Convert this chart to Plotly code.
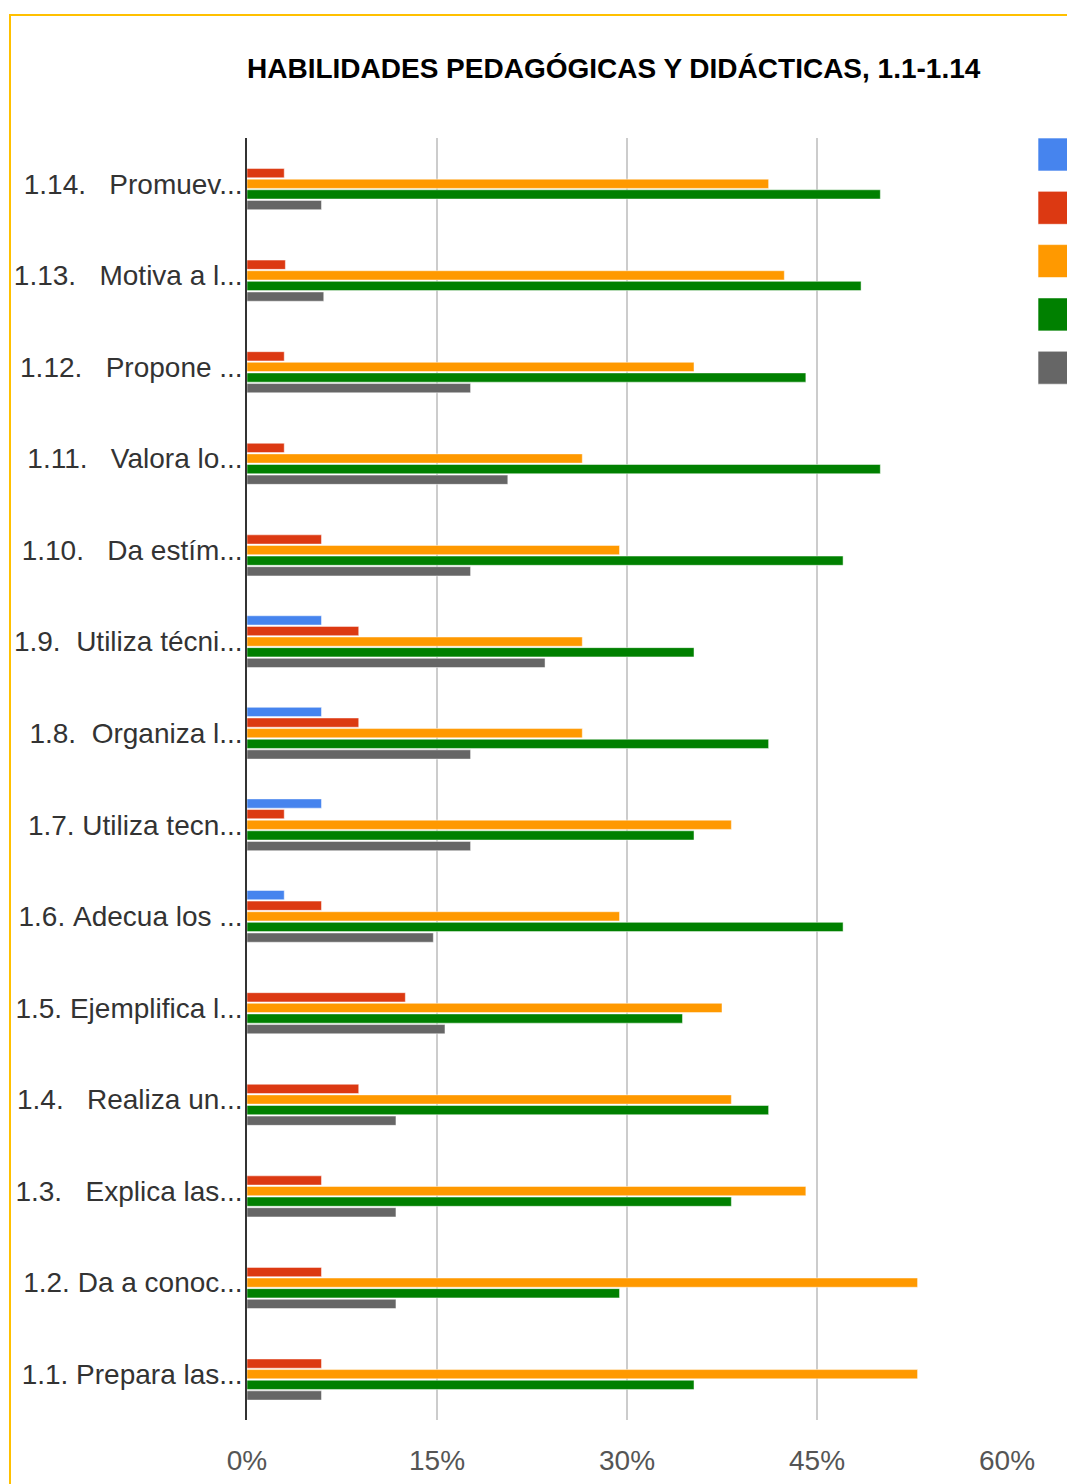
import plotly.graph_objects as go

NB = "\u00a0"

# categories, top to bottom
categories = [
    "1.14." + NB * 3 + "Promuev...",
    "1.13." + NB * 3 + "Motiva a l...",
    "1.12." + NB * 3 + "Propone ...",
    "1.11." + NB * 3 + "Valora lo...",
    "1.10." + NB * 3 + "Da estím...",
    "1.9." + NB * 2 + "Utiliza técni...",
    "1.8." + NB * 2 + "Organiza l...",
    "1.7." + NB + "Utiliza tecn...",
    "1.6." + NB + "Adecua los ...",
    "1.5." + NB + "Ejemplifica l...",
    "1.4." + NB * 3 + "Realiza un...",
    "1.3." + NB * 3 + "Explica las...",
    "1.2." + NB + "Da a conoc...",
    "1.1." + NB + "Prepara las...",
]

# percentages per series (same order as categories)
serie_1 = [0, 0, 0, 0, 0, 5.88, 5.88, 5.88, 2.94, 0, 0, 0, 0, 0]
serie_2 = [2.94, 3.03, 2.94, 2.94, 5.88, 8.82, 8.82, 2.94, 5.88, 12.5, 8.82, 5.88, 5.88, 5.88]
serie_3 = [41.18, 42.42, 35.29, 26.47, 29.41, 26.47, 26.47, 38.24, 29.41, 37.5, 38.24, 44.12, 52.94, 52.94]
serie_4 = [50.0, 48.48, 44.12, 50.0, 47.06, 35.29, 41.18, 35.29, 47.06, 34.38, 41.18, 38.24, 29.41, 35.29]
serie_5 = [5.88, 6.06, 17.65, 20.59, 17.65, 23.53, 17.65, 17.65, 14.71, 15.63, 11.76, 11.76, 11.76, 5.88]

series_names = ["Nunca", "Casi nunca", "A veces", "Casi siempre", "Siempre"]
series_values = [serie_1, serie_2, serie_3, serie_4, serie_5]
colors = ["#4684ee", "#dc3912", "#ff9900", "#008000", "#666666"]

x_ticks = [0, 15, 30, 45, 60]
x_ticktext = ["0%", "15%", "30%", "45%", "60%"]

W, H = 1067, 1484
L, R, T, B = 247, 60, 138, 64
pw, ph = W - L - R, H - T - B


def px_x(x):
    return (x - L) / pw


def px_y(y):
    return (H - B - y) / ph


fig = go.Figure()
for name, vals, col in zip(series_names, series_values, colors):
    fig.add_trace(go.Bar(
        y=categories, x=vals, name=name, orientation="h",
        marker=dict(color=col, line=dict(color="rgba(255,255,255,0.6)", width=0.8)),
        hovertemplate="%{y}: %{x:.1f}%<extra>" + name + "</extra>",
    ))

shapes = []
# outer frame
shapes.append(dict(type="rect", xref="paper", yref="paper",
                   x0=px_x(10), x1=px_x(1090), y0=px_y(1510), y1=px_y(15),
                   line=dict(color="#ffc000", width=2), fillcolor="rgba(0,0,0,0)", layer="below"))
# legend swatches (legend text is cut off at the right edge)
for i, col in enumerate(colors):
    top = 138 + i * 53.3
    shapes.append(dict(type="rect", xref="paper", yref="paper",
                       x0=px_x(1038), x1=px_x(1080), y0=px_y(top + 33), y1=px_y(top),
                       line=dict(color="rgba(255,255,255,0.6)", width=1), fillcolor=col))

fig.update_layout(
    width=W, height=H,
    margin=dict(l=L, r=R, t=T, b=B),
    paper_bgcolor="white", plot_bgcolor="white",
    barmode="group", bargap=0.42, bargroupgap=0.13,
    showlegend=False,
    font=dict(family="Liberation Sans, Arial, sans-serif", color="#333"),
    title=dict(text="<b>HABILIDADES PEDAGÓGICAS Y DIDÁCTICAS, 1.1-1.14</b>",
               x=L / W, xanchor="left", xref="container",
               y=1 - 68 / H, yanchor="middle", yref="container",
               font=dict(size=28, color="#000", family="Liberation Sans, Arial, sans-serif")),
    xaxis=dict(range=[0, 60], tickvals=x_ticks, ticktext=x_ticktext, automargin=False,
               showgrid=True, gridcolor="#cccccc", gridwidth=1.5, zeroline=False,
               showline=False, ticks="", ticklabelstandoff=21,
               tickfont=dict(size=28, color="#555")),
    yaxis=dict(categoryorder="array", categoryarray=categories, autorange="reversed",
               automargin=False,
               showline=True, linecolor="#333", linewidth=1.5, showgrid=False,
               ticks="", ticklabelstandoff=-3, tickfont=dict(size=28, color="#333")),
    shapes=shapes,
)

fig.write_html("out.html", config={"displayModeBar": False},
               post_script="document.body.style.margin='0px';")
